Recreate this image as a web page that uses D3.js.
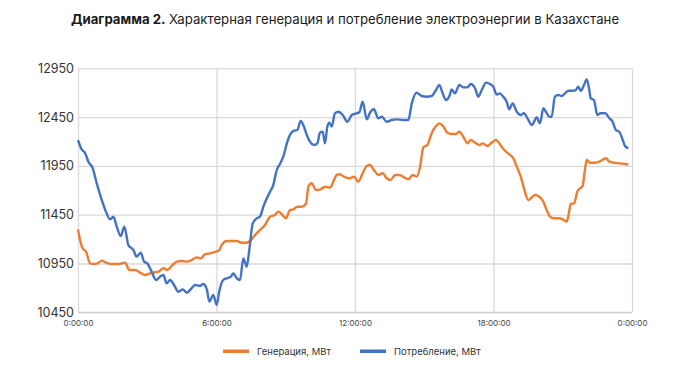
<!DOCTYPE html>
<html><head><meta charset="utf-8">
<script src="https://cdn.jsdelivr.net/npm/d3@7/dist/d3.min.js"></script>
<style>
html,body{margin:0;padding:0;background:#fff;}
svg{display:block;font-family:Inter,"Noto Sans",sans-serif;}
</style></head>
<body><svg id="chart" width="688" height="381"></svg>
<script>
const titleBold = "Диаграмма 2.";
const titleRest = " Характерная генерация и потребление электроэнергии в Казахстане";
const seriesNames = ["Генерация, МВт", "Потребление, МВт"];
const yTicks = [10450, 10950, 11450, 11950, 12450, 12950];
const xTicks = [0, 6, 12, 18, 24];
const xTickLabels = ["0:00:00", "6:00:00", "12:00:00", "18:00:00", "0:00:00"];

// Generation (hours, MW)
const genHours = [0.00,0.09,0.20,0.35,0.52,0.69,0.84,1.03,1.21,1.46,1.75,2.04,2.22,2.47,2.69,2.90,3.12,3.34,3.48,3.70,3.87,4.06,4.28,4.49,4.71,4.93,5.14,5.32,5.50,5.72,5.94,6.12,6.23,6.44,6.66,6.88,7.09,7.28,7.45,7.67,7.88,8.10,8.32,8.53,8.68,8.82,9.01,9.18,9.33,9.50,9.69,9.88,9.98,10.12,10.31,10.51,10.70,10.92,11.06,11.21,11.35,11.52,11.75,11.96,12.14,12.33,12.51,12.65,12.82,13.01,13.20,13.37,13.55,13.73,13.92,14.12,14.31,14.50,14.67,14.82,14.96,15.13,15.32,15.51,15.65,15.83,16.00,16.19,16.38,16.52,16.69,16.87,17.01,17.20,17.39,17.53,17.73,17.92,18.11,18.25,18.35,18.54,18.72,18.86,19.01,19.18,19.32,19.51,19.66,19.80,19.99,20.16,20.30,20.45,20.59,20.81,21.00,21.17,21.24,21.34,21.49,21.63,21.75,21.86,21.96,22.04,22.18,22.40,22.58,22.76,22.87,23.02,23.22,23.48,23.70,23.84];
const genValues = [11300,11191,11106,11071,10952,10945,10952,10979,10959,10945,10945,10959,10884,10884,10856,10832,10849,10860,10866,10901,10884,10925,10969,10976,10969,10986,11013,11003,11044,11054,11068,11088,11140,11180,11180,11180,11163,11163,11180,11242,11293,11345,11430,11447,11481,11457,11413,11498,11505,11532,11532,11566,11737,11772,11703,11710,11737,11727,11788,11857,11864,11840,11823,11840,11788,11874,11949,11959,11908,11857,11874,11823,11806,11857,11857,11833,11813,11857,11840,11942,12140,12164,12284,12359,12386,12352,12290,12277,12277,12300,12249,12181,12215,12188,12164,12181,12154,12188,12215,12181,12147,12096,12062,12028,11942,11840,11720,11600,11628,11652,11634,11583,11498,11430,11413,11413,11403,11379,11430,11560,11566,11686,11720,11744,11908,12010,11983,11983,11993,12017,12028,11993,11983,11976,11969,11966];

// Consumption (hours, MW)
const consHours = [0.00,0.16,0.30,0.45,0.64,0.81,1.03,1.24,1.39,1.53,1.68,1.85,2.01,2.18,2.40,2.54,2.72,2.86,3.00,3.19,3.38,3.55,3.70,3.84,3.99,4.16,4.35,4.54,4.71,4.88,5.07,5.29,5.43,5.58,5.69,5.86,6.01,6.12,6.29,6.44,6.62,6.73,6.88,7.02,7.16,7.31,7.42,7.57,7.74,7.88,8.03,8.18,8.32,8.46,8.61,8.75,8.89,9.07,9.18,9.36,9.50,9.65,9.76,9.91,10.05,10.22,10.37,10.48,10.60,10.70,10.80,10.89,10.99,11.13,11.28,11.47,11.67,11.86,12.07,12.19,12.33,12.51,12.65,12.82,13.01,13.16,13.37,13.59,13.81,14.09,14.31,14.46,14.67,14.89,15.11,15.32,15.51,15.65,15.80,15.94,16.09,16.19,16.33,16.52,16.69,16.87,17.01,17.20,17.34,17.49,17.68,17.85,17.99,18.14,18.28,18.42,18.57,18.68,18.83,19.01,19.18,19.32,19.47,19.66,19.76,19.87,20.01,20.16,20.27,20.42,20.52,20.66,20.81,20.95,21.10,21.24,21.43,21.57,21.67,21.78,21.92,22.04,22.15,22.21,22.35,22.50,22.64,22.83,23.02,23.16,23.30,23.45,23.60,23.70,23.84];
const consValues = [12215,12120,12085,11993,11925,11772,11600,11464,11403,11430,11327,11232,11327,11140,11088,11020,11061,10969,10952,10866,10781,10815,10832,10747,10781,10730,10661,10685,10651,10685,10730,10720,10740,10685,10559,10627,10525,10665,10781,10798,10815,10849,10798,10781,11003,10917,11088,11361,11413,11430,11532,11618,11686,11754,11908,11970,12044,12198,12267,12311,12318,12410,12369,12267,12198,12164,12181,12290,12300,12181,12352,12393,12352,12489,12505,12471,12403,12471,12489,12500,12608,12427,12495,12530,12438,12454,12403,12420,12427,12420,12420,12591,12700,12666,12659,12666,12728,12779,12693,12625,12666,12734,12693,12779,12755,12755,12789,12745,12659,12728,12803,12789,12762,12680,12693,12659,12608,12530,12591,12505,12471,12489,12438,12369,12403,12448,12386,12540,12505,12454,12454,12659,12676,12666,12693,12720,12720,12728,12762,12720,12779,12837,12728,12643,12625,12471,12489,12489,12438,12403,12318,12300,12215,12154,12130];

const colors = ["#ED7D31", "#4472C4"];

const svg = d3.select("#chart");
const m = {left: 78, right: 56, top: 68.3, bottom: 68.7};
const W = 688, H = 381;
const x = d3.scaleLinear().domain([0, 24]).range([m.left, W - m.right]);
const y = d3.scaleLinear().domain([10450, 12950]).range([H - m.bottom, m.top]);

// title
const t = svg.append("text").attr("x", 71).attr("y", 24)
  .attr("font-size", 13.2).attr("fill", "#1a1a1a");
t.append("tspan").attr("font-weight", 700).text(titleBold);
t.append("tspan").attr("font-weight", 400).text(titleRest);

// gridlines
const g = svg.append("g");
g.append("g").attr("transform", `translate(0,0)`)
  .call(d3.axisLeft(y).tickValues(yTicks).tickSize(-(W - m.right - m.left)).tickFormat(""))
  .attr("transform", `translate(${m.left},0)`)
  .call(s => s.select(".domain").remove())
  .selectAll("line").attr("stroke", "#d9d9d9").attr("stroke-width", 1.3);
g.append("g").attr("transform", `translate(0,${H - m.bottom})`)
  .call(d3.axisBottom(x).tickValues(xTicks).tickSize(-(H - m.bottom - m.top)).tickFormat(""))
  .call(s => s.select(".domain").remove())
  .selectAll("line").attr("stroke", "#d9d9d9").attr("stroke-width", 1.3);
// bottom axis line
g.append("line").attr("x1", m.left).attr("x2", W - m.right)
  .attr("y1", y(10450)).attr("y2", y(10450)).attr("stroke", "#cfcfcf").attr("stroke-width", 1.3);

// y labels
const yAxis = svg.append("g").attr("transform", `translate(${m.left},0)`)
  .call(d3.axisLeft(y).tickValues(yTicks).tickSize(0).tickPadding(4).tickFormat(d3.format("d")));
yAxis.select(".domain").remove();
yAxis.selectAll("text").attr("font-size", 12.5).attr("fill", "#333").attr("font-family", "Inter,'Noto Sans',sans-serif");

// x labels
const xAxis = svg.append("g").attr("transform", `translate(0,${H - m.bottom})`)
  .call(d3.axisBottom(x).tickValues(xTicks).tickSize(0).tickPadding(8).tickFormat((d, i) => xTickLabels[i]));
xAxis.select(".domain").remove();
xAxis.selectAll("text").attr("font-size", 8).attr("fill", "#444").attr("font-family", "Inter,'Noto Sans',sans-serif");

// lines
const line = d3.line().x(d => x(d[0])).y(d => y(d[1])).curve(d3.curveMonotoneX);
const genData = d3.zip(genHours, genValues);
const consData = d3.zip(consHours, consValues);
svg.append("path").datum(genData).attr("d", line).attr("fill", "none")
  .attr("stroke", colors[0]).attr("stroke-width", 2.4).attr("stroke-linejoin", "round");
svg.append("path").datum(consData).attr("d", line).attr("fill", "none")
  .attr("stroke", colors[1]).attr("stroke-width", 2.4).attr("stroke-linejoin", "round");

// legend
const leg = svg.append("g");
const legX = [223, 360];
seriesNames.forEach((n, i) => {
  leg.append("rect").attr("x", legX[i]).attr("y", 349.5).attr("width", 26).attr("height", 3.5).attr("fill", colors[i]);
  leg.append("text").attr("x", legX[i] + 34).attr("y", 354.5).attr("font-size", 9.5).attr("fill", "#333").text(n);
});
</script></body></html>
